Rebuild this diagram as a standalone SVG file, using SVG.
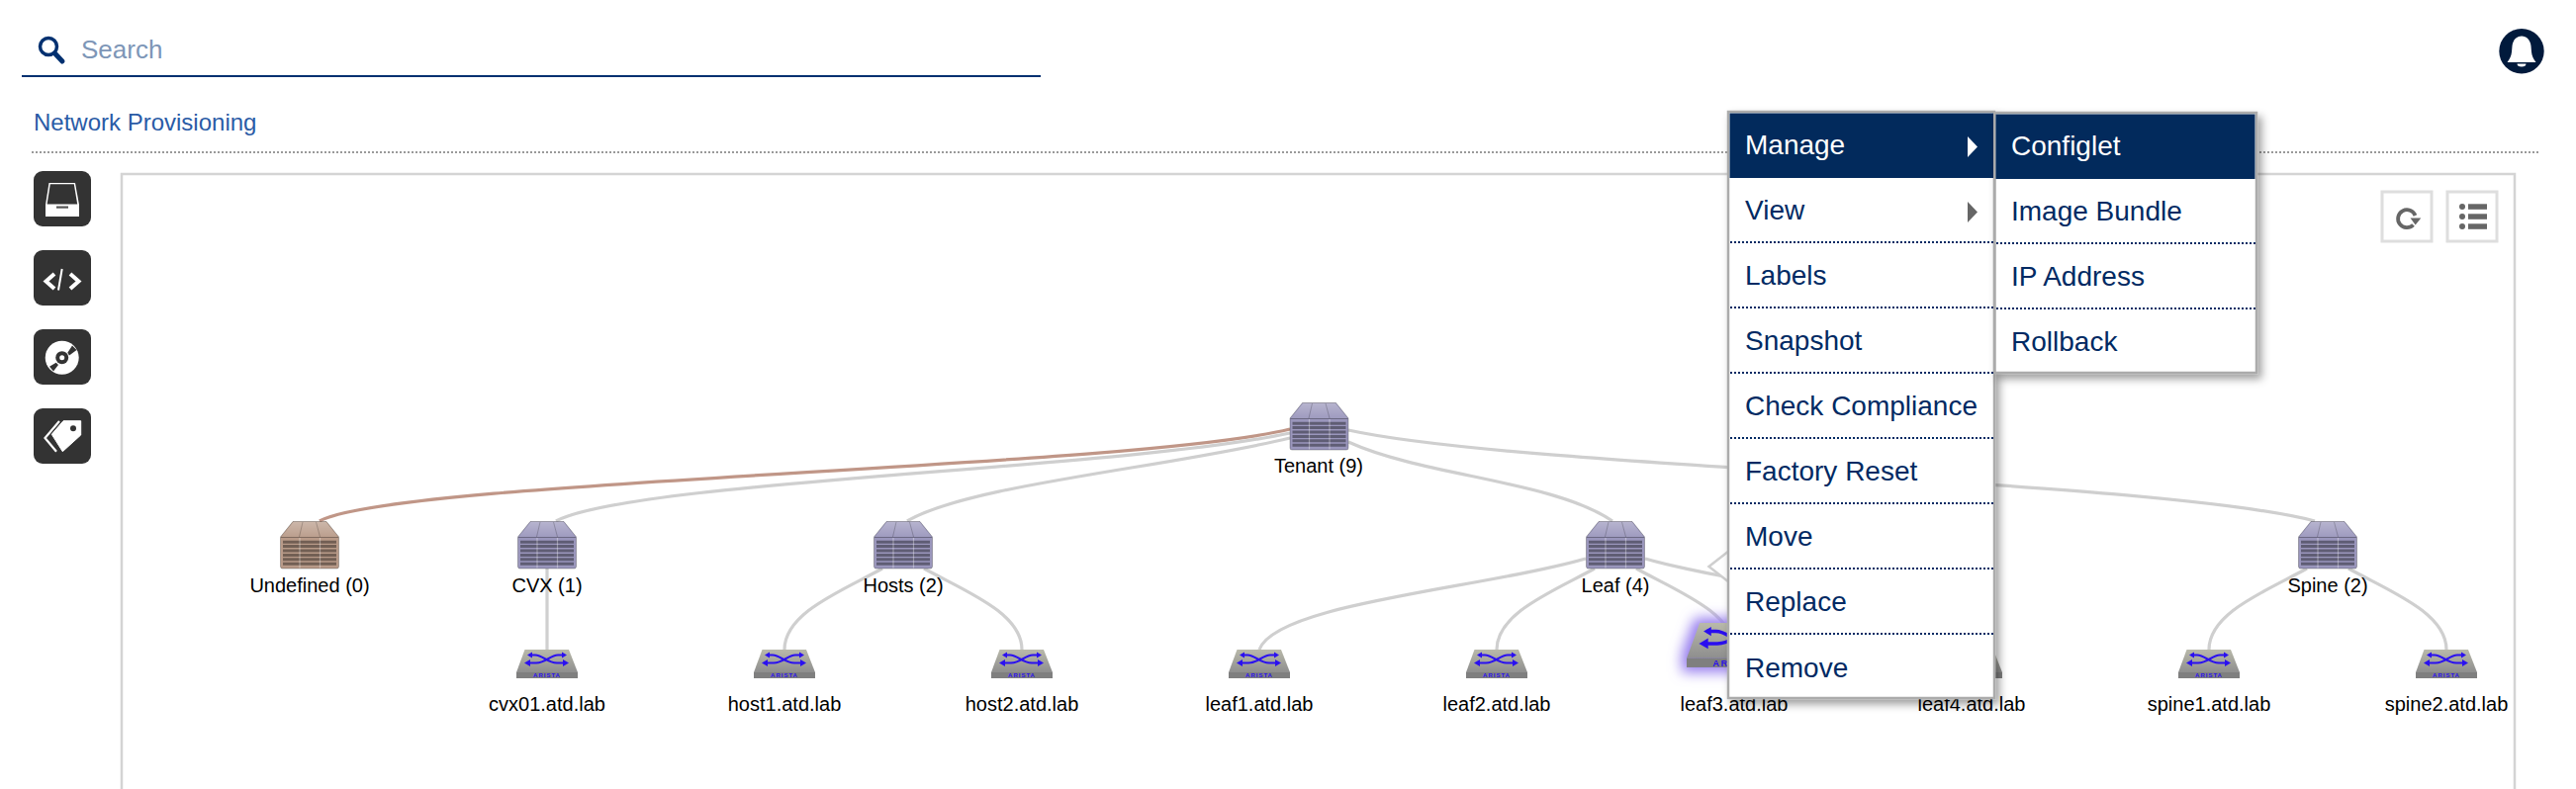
<svg xmlns="http://www.w3.org/2000/svg" width="2604" height="798" viewBox="0 0 2604 798">
<style>
text{font-family:"Liberation Sans",Arial,sans-serif}
.lbl{font-size:20px;fill:#000;text-anchor:middle}
.mi{font-size:28px;fill:#012a63}
.mw{font-size:28px;fill:#fff}
.edge{fill:none;stroke:#cfcfcf;stroke-width:3.2}
.edge.b{stroke:#c09687}
.sep{stroke:#012a63;stroke-width:2;stroke-dasharray:2 2;fill:none}
.side{fill:#333}
.tool{fill:#fff;stroke:#dedede;stroke-width:3}
.menu{fill:#fff;stroke:#ababab;stroke-width:2.5}
.hl{fill:#022a5c}
</style>
<defs>
<linearGradient id="chTop" x1="0" y1="0" x2="0" y2="1"><stop offset="0" stop-color="#fff" stop-opacity=".28"/><stop offset="1" stop-color="#fff" stop-opacity=".05"/></linearGradient>
<linearGradient id="swTop" x1="0" y1="0" x2="0" y2="1"><stop offset="0" stop-color="#b9b9aa"/><stop offset="1" stop-color="#8e8e8e"/></linearGradient>
<g id="ch">
<path d="M13 .5H47L59.5 16V46Q59.5 48 57.5 48H2.500Q.5 48 .5 46V16Z" fill="currentColor" stroke="#000" stroke-opacity=".25" stroke-width="1"/>
<path d="M13.500 1H46.500L58.500 16H1.500Z" fill="url(#chTop)"/>
<path d="M23 1L19.500 16M36.500 1L40.500 16" stroke="#000" stroke-opacity=".2" stroke-width="1" fill="none"/>
<path d="M1 16.500H59" stroke="#000" stroke-opacity=".3" stroke-width="1"/>
<path d="M3 21.200H57M3 25.600H57M3 30H57M3 34.400H57M3 38.800H57M3 43.200H57" stroke="#000" stroke-opacity=".38" stroke-width="3" fill="none"/>
<path d="M20 17V47.500M40.500 17V47.500" stroke="#fff" stroke-opacity=".35" stroke-width="1.200" fill="none"/>
</g>
<g id="sw">
<path d="M8.500 0H53L62 23H0Z" fill="url(#swTop)"/>
<rect x="0" y="23" width="62" height="6" fill="#7f7f7f"/>
<path d="M13 5.500H19C27 5.500 31 13.500 41 13.500H48M13 13.500H20C30 13.500 34 5.500 42 5.500H47" fill="none" stroke="#2a10f0" stroke-width="2.200"/>
<path d="M8 13.500L14 10V17ZM53 13.500L47 10V17ZM11 5.500L16 2.500V8.500ZM51 5.500L46 2.500V8.500Z" fill="#2a10f0"/>
<text x="31" y="28.200" font-size="6" font-weight="700" letter-spacing="1" text-anchor="middle" fill="#2a10f0">ARISTA</text>
</g>
<filter id="glow" x="-40%" y="-70%" width="180%" height="240%">
<feMorphology in="SourceAlpha" operator="dilate" radius="3"/>
<feGaussianBlur stdDeviation="4"/>
<feColorMatrix type="matrix" values="0 0 0 0 .3  0 0 0 0 .2  0 0 0 0 .85  0 0 0 1 0"/>
<feMerge><feMergeNode/><feMergeNode in="SourceGraphic"/></feMerge>
</filter>
<filter id="shadow" x="-5%" y="-5%" width="112%" height="112%">
<feDropShadow dx="4" dy="5" stdDeviation="4" flood-color="#000" flood-opacity=".38"/>
</filter>
</defs>
<rect width="2604" height="798" fill="#fff"/>

<g id="search">
<circle cx="49" cy="47" r="8.500" fill="none" stroke="#013070" stroke-width="3.500"/>
<path d="M55.500 54L63 62" stroke="#013070" stroke-width="5" stroke-linecap="round"/>
<text x="82" y="59" font-size="26" fill="#7d96b7">Search</text>
<path d="M22 77H1052" stroke="#013070" stroke-width="2.200"/>
</g>
<g id="bell">
<circle cx="2549" cy="51.700" r="22.700" fill="#011a3c"/>
<path d="M2549 36.500c5 0 9 4 9.500 10l.5 6c.3 4 2 7 4.500 10.500h-29c2.500-3.500 4.200-6.500 4.500-10.500l.5-6c.5-6 4.500-10 9.500-10z" fill="#fff"/>
<path d="M2544.500 64.500h9a4.500 3 0 0 1-9 0z" fill="#fff"/>
</g>
<text id="title" x="34" y="132" font-size="24" fill="#2a5ba6">Network Provisioning</text>
<path id="rule" d="M32 154H2566" stroke="#9a9a9a" stroke-width="2" stroke-dasharray="2 2" fill="none"/>

<g id="sidebar">
<g id="btn-tray"><rect class="side" x="34" y="173" width="58" height="56" rx="9"/>
<path d="M49.500 185H76L80 207V219H46V207Z" fill="#fff"/><path d="M50.800 186.300H74.800L78.200 206.500H47.600Z" fill="#333"/><rect x="57" y="208.500" width="12" height="2.200" fill="#555"/></g>
<g id="btn-code"><rect class="side" x="34" y="253" width="58" height="56" rx="9"/>
<path d="M55 277L46.500 284.500L55 292M71 277L79.500 284.500L71 292" fill="none" stroke="#fff" stroke-width="4"/><path d="M62.700 272L59 293.500" stroke="#fff" stroke-width="2"/></g>
<g id="btn-disc"><rect class="side" x="34" y="333" width="58" height="56" rx="9"/>
<circle cx="62.700" cy="361.700" r="17" fill="#fff"/><path d="M68.300 356.700L73 349.500L77.500 354L70 359.500ZM56.700 366.700L50 370.700L54 375.500L59 369Z" fill="#333"/><circle cx="62.700" cy="361.700" r="6.500" fill="#333"/><circle cx="62.700" cy="361.700" r="2.500" fill="#fff"/></g>
<g id="btn-tag"><rect class="side" x="34" y="413" width="58" height="56" rx="9"/>
<path d="M52.300 439.300L64 425.700H81.700V440L63.300 456.700Z" fill="#fff" stroke="#fff" stroke-width="1" stroke-linejoin="round"/><circle cx="74" cy="433.300" r="3" fill="#333"/><path d="M60 426L45.500 443L57 456.700" fill="none" stroke="#fff" stroke-width="2.200"/></g>
</g>

<path id="panel" d="M123 798V176H2542V798" fill="none" stroke="#d4d4d4" stroke-width="2.500"/>
<g id="btn-refresh"><rect class="tool" x="2408" y="194" width="50" height="50"/>
<path d="M2439.500 227.500A9 9 0 1 1 2441.500 218" fill="none" stroke="#666" stroke-width="3.800"/><path d="M2436.500 220.500H2447.300L2441.700 227.500Z" fill="#666"/></g>
<g id="btn-list"><rect class="tool" x="2474" y="194" width="50" height="50"/>
<g fill="#666"><circle cx="2489" cy="209" r="3"/><circle cx="2489" cy="219" r="3"/><circle cx="2489" cy="229" r="3"/><rect x="2495" y="206.300" width="19" height="5.500"/><rect x="2495" y="216.300" width="19" height="5.500"/><rect x="2495" y="226.300" width="19" height="5.500"/></g></g>

<g id="connectors">
<path class="edge b" d="M1304 434C1140 474 400 485 323 527"/>
<path class="edge" d="M1304 438C1130 475 640 486 562 527"/>
<path class="edge" d="M1304 443C1180 473 980 490 917 527"/>
<path class="edge" d="M1363 447C1440 482 1570 486 1630 527"/>
<path class="edge" d="M1363 435C1540 474 2180 485 2340 527"/>
<path class="edge" d="M553 575V657"/>
<path class="edge" d="M892 575C850 598 793 620 793 657"/>
<path class="edge" d="M934 575C976 598 1033 620 1033 657"/>
<path class="edge" d="M1603 565C1500 595 1290 610 1273 657"/>
<path class="edge" d="M1612 575C1570 598 1513 620 1513 657"/>
<path class="edge" d="M1654 575C1696 598 1753 620 1753 657"/>
<path class="edge" d="M1663 565C1766 595 1976 610 1993 657"/>
<path class="edge" d="M2332 575C2290 598 2233 620 2233 657"/>
<path class="edge" d="M2374 575C2416 598 2473 620 2473 657"/>
</g>

<g id="node-tenant" color="#9a96bc"><use href="#ch" x="1303.500" y="407"/><text class="lbl" x="1333" y="478">Tenant (9)</text></g>
<g id="node-undefined" color="#b89a88"><use href="#ch" x="283" y="527"/><text class="lbl" x="313" y="599">Undefined (0)</text></g>
<g id="node-cvx" color="#9a96bc"><use href="#ch" x="523" y="527"/><text class="lbl" x="553" y="599">CVX (1)</text></g>
<g id="node-hosts" color="#9a96bc"><use href="#ch" x="883" y="527"/><text class="lbl" x="913" y="599">Hosts (2)</text></g>
<g id="node-leaf" color="#9a96bc"><use href="#ch" x="1603" y="527"/><text class="lbl" x="1633" y="599">Leaf (4)</text></g>
<g id="node-spine" color="#9a96bc"><use href="#ch" x="2323" y="527"/><text class="lbl" x="2353" y="599">Spine (2)</text></g>

<g id="node-cvx01"><use href="#sw" x="522" y="657"/><text class="lbl" x="553" y="719">cvx01.atd.lab</text></g>
<g id="node-host1"><use href="#sw" x="762" y="657"/><text class="lbl" x="793" y="719">host1.atd.lab</text></g>
<g id="node-host2"><use href="#sw" x="1002" y="657"/><text class="lbl" x="1033" y="719">host2.atd.lab</text></g>
<g id="node-leaf1"><use href="#sw" x="1242" y="657"/><text class="lbl" x="1273" y="719">leaf1.atd.lab</text></g>
<g id="node-leaf2"><use href="#sw" x="1482" y="657"/><text class="lbl" x="1513" y="719">leaf2.atd.lab</text></g>
<g id="node-leaf3"><use href="#sw" transform="translate(1705 630) scale(1.550)" filter="url(#glow)"/><text class="lbl" x="1753" y="719">leaf3.atd.lab</text></g>
<g id="node-leaf4"><use href="#sw" x="1962" y="657"/><text class="lbl" x="1993" y="719">leaf4.atd.lab</text></g>
<g id="node-spine1"><use href="#sw" x="2202" y="657"/><text class="lbl" x="2233" y="719">spine1.atd.lab</text></g>
<g id="node-spine2"><use href="#sw" x="2442" y="657"/><text class="lbl" x="2473" y="719">spine2.atd.lab</text></g>

<g id="context-menu">
<path d="M1748 557L1727.500 573L1748 589Z" fill="#fff" stroke="#cfcfcf" stroke-width="2.500"/>
<rect class="menu" x="1747" y="113" width="269" height="593" filter="url(#shadow)"/>
<rect class="hl" x="1748.500" y="114.500" width="266.500" height="65.500"/>
<path class="sep" d="M1749 245H2015M1749 311H2015M1749 377H2015M1749 443H2015M1749 509H2015M1749 575H2015M1749 641H2015"/>
<text class="mw" x="1764" y="156">Manage</text>
<path d="M1989 138L1999 148.500L1989 159Z" fill="#fff"/>
<text class="mi" x="1764" y="222">View</text>
<path d="M1989 204L1999 214.500L1989 225Z" fill="#666"/>
<text class="mi" x="1764" y="288">Labels</text>
<text class="mi" x="1764" y="354">Snapshot</text>
<text class="mi" x="1764" y="420">Check Compliance</text>
<text class="mi" x="1764" y="486">Factory Reset</text>
<text class="mi" x="1764" y="552">Move</text>
<text class="mi" x="1764" y="618">Replace</text>
<text class="mi" x="1764" y="685">Remove</text>
</g>
<g id="submenu">
<rect class="menu" x="2016.500" y="114" width="264.500" height="263" filter="url(#shadow)"/>
<rect class="hl" x="2017.500" y="115.500" width="262" height="65.500"/>
<path class="sep" d="M2018 246H2280M2018 312H2280"/>
<text class="mw" x="2033" y="157">Configlet</text>
<text class="mi" x="2033" y="223">Image Bundle</text>
<text class="mi" x="2033" y="289">IP Address</text>
<text class="mi" x="2033" y="355">Rollback</text>
</g>
</svg>
